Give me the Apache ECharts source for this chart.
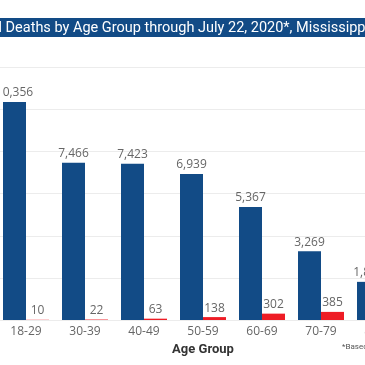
<!DOCTYPE html>
<html>
<head>
<meta charset="utf-8">
<script src="https://cdn.jsdelivr.net/npm/echarts@6/dist/echarts.min.js"></script>
<style>
html,body{margin:0;padding:0;width:365px;height:365px;overflow:hidden;background:#fff;position:relative;}
#c{position:absolute;left:-100px;top:0;width:600px;height:365px;}
</style>
</head>
<body>
<div id="c"></div>
<script>
const titleText = "COVID-19 Cases and Deaths by Age Group through July 22, 2020*, Mississippi";
const footnote = "*Based on date of report";
const axisName = "Age Group";
const categories = ["<18", "18-29", "30-39", "40-49", "50-59", "60-69", "70-79", "80-89", "90+"];
const cases = [null, 10356, 7466, 7423, 6939, 5367, 3269, 1812, null];
const deaths = [null, 10, 22, 63, 138, 302, 385, null, null];
const yTicks = { min: 0, max: 12000, interval: 2000 };

const chart = echarts.init(document.getElementById('c'), null, { renderer: 'canvas' });
const labelStyle = {
  show: true, position: 'top', distance: 3, color: '#666', fontSize: 12,
  fontFamily: 'Open Sans',
  formatter: p => p.value == null ? '' : Number(p.value).toLocaleString('en-US')
};
chart.setOption({
  animation: false,
  graphic: [
    { type: 'rect', shape: { x: 0, y: 18, width: 600, height: 19 }, style: { fill: '#124B86' }, silent: true },
    { type: 'text', x: 469, y: 28, style: { text: titleText, fill: '#fff', font: '400 14.5px Roboto', align: 'right', verticalAlign: 'middle' }, silent: true },
    { type: 'text', x: 442, y: 347, style: { text: footnote, fill: '#555', font: '8px Roboto', align: 'left', verticalAlign: 'middle' }, silent: true }
  ],
  grid: { left: 37.5, right: 31.5, top: 67.4, bottom: 45 },
  xAxis: {
    type: 'category', data: categories,
    axisLine: { show: false }, axisTick: { show: false },
    axisLabel: { color: '#666', fontSize: 12, fontFamily: 'Open Sans', margin: 6 },
    name: axisName, nameLocation: 'middle', nameGap: 22,
    nameTextStyle: { color: '#333', fontSize: 13, fontWeight: 'bold', fontFamily: 'Roboto' }
  },
  yAxis: {
    type: 'value', min: yTicks.min, max: yTicks.max, interval: yTicks.interval,
    axisLabel: { show: false }, axisLine: { show: false }, axisTick: { show: false },
    splitLine: { lineStyle: { color: '#ececec', width: 1 } }
  },
  series: [
    { name: 'Cases', type: 'bar', data: cases, barWidth: 23, barGap: '0%', itemStyle: { color: '#124B86' }, label: labelStyle },
    { name: 'Deaths', type: 'bar', data: deaths, barWidth: 23, itemStyle: { color: '#EE1C25' }, label: labelStyle }
  ]
});
</script>
</body>
</html>
